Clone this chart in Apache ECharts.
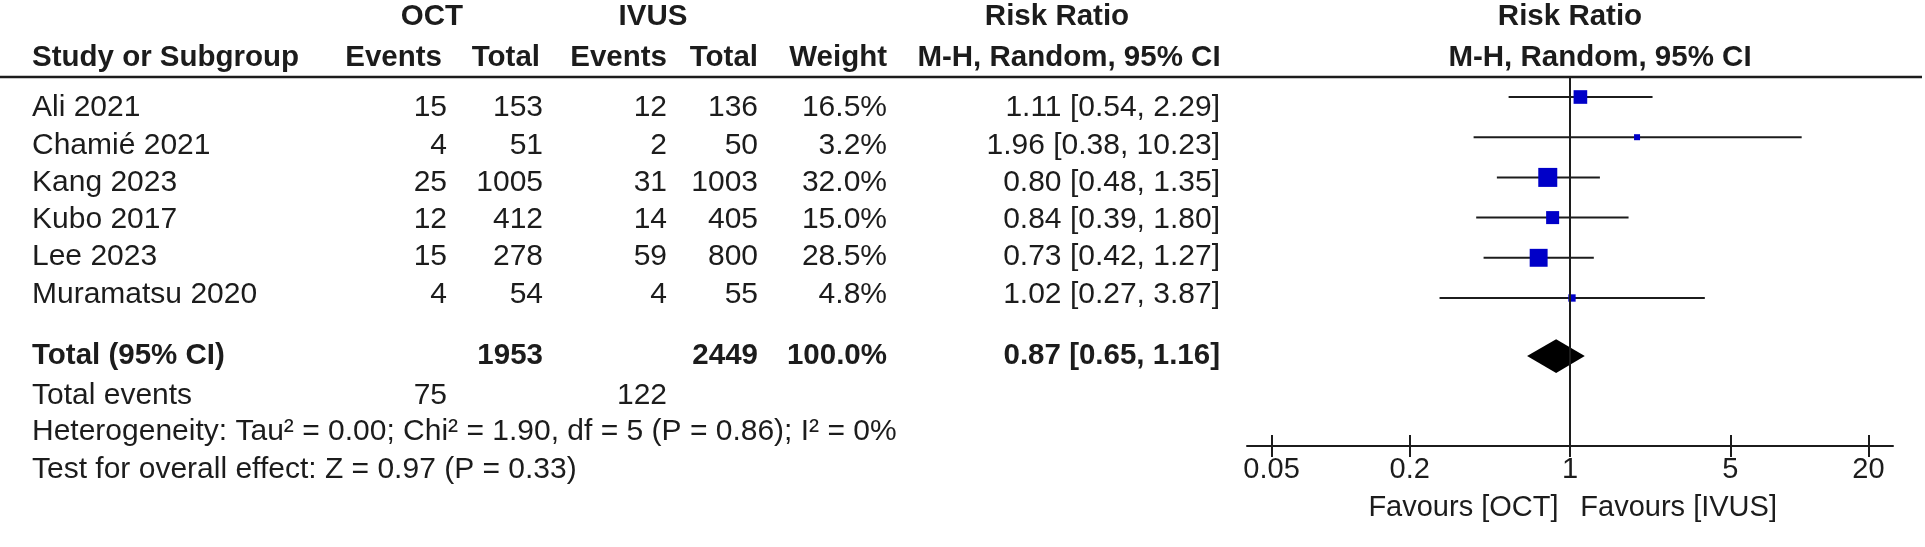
<!DOCTYPE html>
<html>
<head>
<meta charset="utf-8">
<script src="https://cdn.jsdelivr.net/npm/echarts@6/dist/echarts.min.js"></script>
<style>
html,body{margin:0;padding:0;background:#fff;}
#chart{width:1925px;height:547px;}
</style>
</head>
<body>
<div id="chart"></div>
<script>
// ---------- DATA ----------
const studies    = ['Ali 2021', 'Chamié 2021', 'Kang 2023', 'Kubo 2017', 'Lee 2023', 'Muramatsu 2020'];
const octEvents  = [15, 4, 25, 12, 15, 4];
const octTotal   = [153, 51, 1005, 412, 278, 54];
const ivusEvents = [12, 2, 31, 14, 59, 4];
const ivusTotal  = [136, 50, 1003, 405, 800, 55];
const weights    = [16.5, 3.2, 32.0, 15.0, 28.5, 4.8];
const riskRatio  = [1.11, 1.96, 0.80, 0.84, 0.73, 1.02];
const ciLow      = [0.54, 0.38, 0.48, 0.39, 0.42, 0.27];
const ciHigh     = [2.29, 10.23, 1.35, 1.80, 1.27, 3.87];
const pooled     = [0.87, 0.65, 1.16];           // RR, low, high
const pooledTotals = [1953, 2449];               // OCT total, IVUS total
const pooledWeight = 100.0;
const totalEvents  = [75, 122];
const heterogeneityText = 'Heterogeneity: Tau² = 0.00; Chi² = 1.90, df = 5 (P = 0.86); I² = 0%';
const overallText       = 'Test for overall effect: Z = 0.97 (P = 0.33)';
const tickValues = [0.05, 0.2, 1, 5, 20];
const favourLabels = ['Favours [OCT]', 'Favours [IVUS]'];

// ---------- LAYOUT ----------
const W = 1925, H = 547;
// table rows (text)
const T_ROW = 37.3, T_MIN = -2.895;
const T_MAX = T_MIN + H / T_ROW;
const ROWS = { hdr1: -2.44, hdr2: -1.34, hline: -0.83, total: 6.65, events: 7.72, het: 8.69, test: 9.70 };
// plot rows (marks)
const P_ROW = 40.2, P_MIN = -2.413;
const P_AXIS = 8.682;
const P = { hline: -0.498, diamond: 6.443, favours: 10.22, diamondHalf: 0.42 };
const PLOT_LEFT = 1247, PLOT_RIGHT = 1893;
const LOG_RANGE = 1.408;
const COL = { name: 32, octEv: 447, octTot: 543, ivEv: 667, ivTot: 758, weight: 887, ci: 1220 };
const HDR = { octEv: 442, octTot: 540, ivEv: 667, ivTot: 758, weight: 887, oct: 432, ivus: 653, rr1: 1057, mh1: 1069, rr2: 1570, mh2: 1600 };
const FONT = "'Liberation Sans', Arial, sans-serif";
const FS_BOLD = 29.5, FS_REG = 30;
const AXFS = 29;
const INK = '#1c1c1c';

const fmt2 = v => v.toFixed(2);
const ciText = (r, l, h) => `${fmt2(r)} [${fmt2(l)}, ${fmt2(h)}]`;

// ---------- TABLE TEXT ----------
const texts = [];
function T(x, y, t, align, bold) { texts.push({ x, y, t: String(t), align: align || 'right', bold: !!bold }); }

T(HDR.oct, ROWS.hdr1, 'OCT', 'center', true);
T(HDR.ivus, ROWS.hdr1, 'IVUS', 'center', true);
T(HDR.rr1, ROWS.hdr1, 'Risk Ratio', 'center', true);
T(HDR.rr2, ROWS.hdr1, 'Risk Ratio', 'center', true);
T(COL.name, ROWS.hdr2, 'Study or Subgroup', 'left', true);
T(HDR.octEv, ROWS.hdr2, 'Events', 'right', true);
T(HDR.octTot, ROWS.hdr2, 'Total', 'right', true);
T(HDR.ivEv, ROWS.hdr2, 'Events', 'right', true);
T(HDR.ivTot, ROWS.hdr2, 'Total', 'right', true);
T(HDR.weight, ROWS.hdr2, 'Weight', 'right', true);
T(HDR.mh1, ROWS.hdr2, 'M-H, Random, 95% CI', 'center', true);
T(HDR.mh2, ROWS.hdr2, 'M-H, Random, 95% CI', 'center', true);

studies.forEach((s, i) => {
  T(COL.name, i, s, 'left');
  T(COL.octEv, i, octEvents[i]);
  T(COL.octTot, i, octTotal[i]);
  T(COL.ivEv, i, ivusEvents[i]);
  T(COL.ivTot, i, ivusTotal[i]);
  T(COL.weight, i, weights[i].toFixed(1) + '%');
  T(COL.ci, i, ciText(riskRatio[i], ciLow[i], ciHigh[i]));
});
T(COL.name, ROWS.total, 'Total (95% CI)', 'left', true);
T(COL.octTot, ROWS.total, pooledTotals[0], 'right', true);
T(COL.ivTot, ROWS.total, pooledTotals[1], 'right', true);
T(COL.weight, ROWS.total, pooledWeight.toFixed(1) + '%', 'right', true);
T(COL.ci, ROWS.total, ciText(pooled[0], pooled[1], pooled[2]), 'right', true);
T(COL.name, ROWS.events, 'Total events', 'left');
T(COL.octEv, ROWS.events, totalEvents[0]);
T(COL.ivEv, ROWS.events, totalEvents[1]);
T(COL.name, ROWS.het, heterogeneityText, 'left');
T(COL.name, ROWS.test, overallText, 'left');

// ---------- CHART ----------
const chart = echarts.init(document.getElementById('chart'), null, { renderer: 'canvas' });
const lg = v => Math.log10(v);
const tickLogs = tickValues.map(lg);
const labelFor = v => {
  let best = 0;
  tickLogs.forEach((t, i) => { if (Math.abs(t - v) < Math.abs(tickLogs[best] - v)) best = i; });
  return String(tickValues[best]);
};

const studyData = studies.map((s, i) => [lg(riskRatio[i]), i, lg(ciLow[i]), lg(ciHigh[i]), weights[i]]);
const maxW = Math.max(...weights);

const option = {
  animation: false,
  backgroundColor: '#fff',
  grid: [
    { left: 0, top: 0, width: W, height: H },
    { left: PLOT_LEFT, top: 0, width: PLOT_RIGHT - PLOT_LEFT, height: (P_AXIS - P_MIN) * P_ROW }
  ],
  xAxis: [
    { gridIndex: 0, type: 'value', min: 0, max: W, show: false },
    { gridIndex: 1, type: 'value', min: -LOG_RANGE, max: LOG_RANGE, position: 'bottom', offset: 0,
      axisLine: { show: true, onZero: false, lineStyle: { color: INK, width: 2 } },
      axisTick: { show: true, inside: true, length: 11, customValues: tickLogs, lineStyle: { color: INK, width: 2 } },
      axisLabel: { show: true, customValues: tickLogs, formatter: labelFor, margin: 9,
        fontFamily: FONT, fontSize: AXFS, color: INK },
      splitLine: { show: false } },
    { gridIndex: 1, type: 'value', min: -LOG_RANGE, max: LOG_RANGE, position: 'bottom', offset: 0,
      axisLine: { show: false, onZero: false },
      axisTick: { show: true, inside: false, length: 11, customValues: tickLogs, lineStyle: { color: INK, width: 2 } },
      axisLabel: { show: false }, splitLine: { show: false } }
  ],
  yAxis: [
    { gridIndex: 0, type: 'value', min: T_MIN, max: T_MAX, inverse: true, show: false },
    { gridIndex: 1, type: 'value', min: P_MIN, max: P_AXIS, inverse: true, show: false }
  ],
  series: [
    { // header rule
      type: 'line', xAxisIndex: 0, yAxisIndex: 0, silent: true, symbol: 'none',
      data: [[0, ROWS.hline], [1922, ROWS.hline]], lineStyle: { color: INK, width: 2.5 }
    },
    { // line of no effect
      type: 'line', xAxisIndex: 1, yAxisIndex: 1, silent: true, symbol: 'none',
      data: [[0, P.hline], [0, P_AXIS]], lineStyle: { color: INK, width: 2 }
    },
    { // table text
      type: 'custom', xAxisIndex: 0, yAxisIndex: 0, silent: true, clip: false,
      data: texts.map(d => [d.x, d.y]),
      renderItem: (params, api) => {
        const d = texts[params.dataIndex];
        const p = api.coord([api.value(0), api.value(1)]);
        return { type: 'text', x: p[0], y: p[1], style: {
          text: d.t, align: d.align, verticalAlign: 'middle', fill: INK,
          font: (d.bold ? 'bold ' + FS_BOLD : FS_REG) + 'px ' + FONT } };
      }
    },
    { // favours labels (below the plot axis)
      type: 'custom', xAxisIndex: 1, yAxisIndex: 1, silent: true, clip: false,
      data: [[-0.05, P.favours], [0.045, P.favours]],
      renderItem: (params, api) => {
        const p = api.coord([api.value(0), api.value(1)]);
        return { type: 'text', x: p[0], y: p[1], style: {
          text: favourLabels[params.dataIndex], align: params.dataIndex === 0 ? 'right' : 'left',
          verticalAlign: 'middle', fill: INK, font: AXFS + 'px ' + FONT } };
      }
    },
    { // study CIs and boxes
      type: 'custom', xAxisIndex: 1, yAxisIndex: 1, silent: true, clip: false,
      data: studyData,
      renderItem: (params, api) => {
        const y = api.value(1);
        const c = api.coord([api.value(0), y]);
        const a = api.coord([api.value(2), y]);
        const b = api.coord([api.value(3), y]);
        const s = 19 * Math.sqrt(api.value(4) / maxW);
        return { type: 'group', children: [
          { type: 'line', shape: { x1: a[0], y1: a[1], x2: b[0], y2: b[1] }, style: { stroke: INK, lineWidth: 2 } },
          { type: 'rect', shape: { x: c[0] - s / 2, y: c[1] - s / 2, width: s, height: s }, style: { fill: '#0000c8' } }
        ] };
      }
    },
    { // pooled diamond
      type: 'custom', xAxisIndex: 1, yAxisIndex: 1, silent: true, clip: false,
      data: [[lg(pooled[0]), P.diamond, lg(pooled[1]), lg(pooled[2])]],
      renderItem: (params, api) => {
        const y = api.value(1), h = P.diamondHalf;
        const pts = [
          api.coord([api.value(2), y]), api.coord([api.value(0), y - h]),
          api.coord([api.value(3), y]), api.coord([api.value(0), y + h])
        ];
        return { type: 'polygon', shape: { points: pts }, style: { fill: '#000' } };
      }
    }
  ]
};
chart.setOption(option);
</script>
</body>
</html>
